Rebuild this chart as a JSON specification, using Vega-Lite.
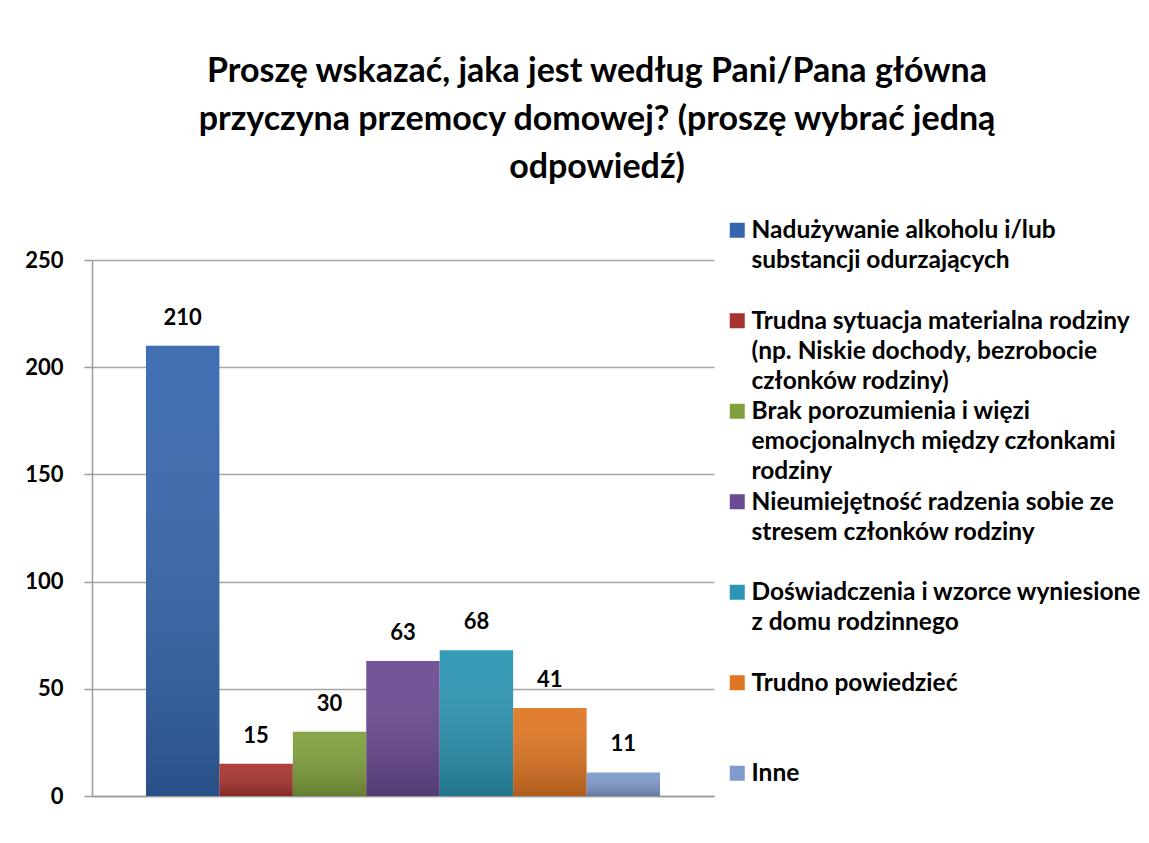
{
  "$schema": "https://vega.github.io/schema/vega-lite/v6.json",
  "width": 622,
  "height": 536,
  "padding": {"left": 24, "top": 55, "right": 0, "bottom": 0},
  "background": "white",
  "config": {"view": {"stroke": null}, "font": "Lato"},
  "title": {
    "text": ["Proszę wskazać, jaka jest według Pani/Pana główna", "przyczyna przemocy domowej? (proszę wybrać jedną", "odpowiedź)"],
    "font": "Lato",
    "fontSize": 34,
    "fontWeight": "bold",
    "lineHeight": 48,
    "color": "black",
    "anchor": "middle",
    "frame": "group",
    "dx": 194,
    "offset": 33
  },
  "data": {
    "values": [
      {"kategoria": "Nadużywanie alkoholu i/lub substancji odurzających", "liczba": 210, "kolejnosc": 1},
      {"kategoria": "Trudna sytuacja materialna rodziny (np. Niskie dochody, bezrobocie członków rodziny)", "liczba": 15, "kolejnosc": 2},
      {"kategoria": "Brak porozumienia i więzi emocjonalnych między członkami rodziny", "liczba": 30, "kolejnosc": 3},
      {"kategoria": "Nieumiejętność radzenia sobie ze stresem członków rodziny", "liczba": 63, "kolejnosc": 4},
      {"kategoria": "Doświadczenia i wzorce wyniesione z domu rodzinnego", "liczba": 68, "kolejnosc": 5},
      {"kategoria": "Trudno powiedzieć", "liczba": 41, "kolejnosc": 6},
      {"kategoria": "Inne", "liczba": 11, "kolejnosc": 7}
    ]
  },
  "encoding": {
    "x": {
      "field": "kategoria",
      "type": "nominal",
      "sort": {"field": "kolejnosc"},
      "scale": {"paddingInner": 0, "paddingOuter": 0.735},
      "axis": {"labels": false, "ticks": false, "title": null, "domainColor": "#9c9c9c", "domainWidth": 1.5}
    },
    "y": {
      "field": "liczba",
      "type": "quantitative",
      "scale": {"domain": [0, 250]},
      "axis": {
        "values": [0, 50, 100, 150, 200, 250],
        "title": null,
        "grid": true,
        "gridColor": "#a6a6a6",
        "gridWidth": 1.5,
        "domainColor": "#9c9c9c",
        "domainWidth": 1.5,
        "tickColor": "#9c9c9c",
        "tickWidth": 1.5,
        "tickSize": 8,
        "labelPadding": 21,
        "labelFont": "Lato",
        "labelFontSize": 22,
        "labelFontWeight": "bold",
        "labelColor": "black"
      }
    }
  },
  "layer": [
    {
      "mark": {"type": "bar"},
      "encoding": {
        "color": {
          "field": "kategoria",
          "type": "nominal",
          "sort": {"field": "kolejnosc"},
          "scale": {
            "range": ["#3566ad", "#a8332f", "#80a03d", "#6a4a92", "#2b95b3", "#e07623", "#7f9bcc"]
          },
          "legend": {
            "title": null,
            "orient": "none",
            "legendX": 633,
            "legendY": -42,
            "padding": 0,
            "rowPadding": 5.5,
            "symbolType": "square",
            "symbolSize": 225,
            "symbolStrokeWidth": 0,
            "symbolOpacity": 1,
            "symbolOffset": 0,
            "labelOffset": 2,
            "labelFont": "Lato",
            "labelFontSize": 24.5,
            "labelFontWeight": "bold",
            "labelColor": "black",
            "labelLimit": 600,
            "labelBaseline": "top",
            "encode": {
              "labels": {"update": {"lineHeight": {"value": 30}, "dy": {"value": -11}}}
            },
            "labelExpr": "datum.label == 'Nadużywanie alkoholu i/lub substancji odurzających' ? ['Nadużywanie alkoholu i/lub', 'substancji odurzających', ''] : datum.label == 'Trudna sytuacja materialna rodziny (np. Niskie dochody, bezrobocie członków rodziny)' ? ['Trudna sytuacja materialna rodziny', '(np. Niskie dochody, bezrobocie', 'członków rodziny)'] : datum.label == 'Brak porozumienia i więzi emocjonalnych między członkami rodziny' ? ['Brak porozumienia i więzi', 'emocjonalnych między członkami', 'rodziny'] : datum.label == 'Nieumiejętność radzenia sobie ze stresem członków rodziny' ? ['Nieumiejętność radzenia sobie ze', 'stresem członków rodziny', ''] : datum.label == 'Doświadczenia i wzorce wyniesione z domu rodzinnego' ? ['Doświadczenia i wzorce wyniesione', 'z domu rodzinnego', ''] : [datum.label, '', '']"
          }
        }
      }
    },
    {
      "mark": {
        "type": "bar",
        "color": {"gradient": "linear", "x1": 0, "y1": 0, "x2": 0, "y2": 1, "stops": [{"offset": 0, "color": "rgba(255,255,255,0.06)"}, {"offset": 1, "color": "rgba(0,0,0,0.22)"}]}
      },
      "encoding": {}
    },
    {
      "mark": {"type": "text", "baseline": "bottom", "dy": -16, "font": "Lato", "fontSize": 22, "fontWeight": "bold", "color": "black"},
      "encoding": {
        "text": {"field": "liczba", "type": "quantitative"}
      }
    }
  ]
}
